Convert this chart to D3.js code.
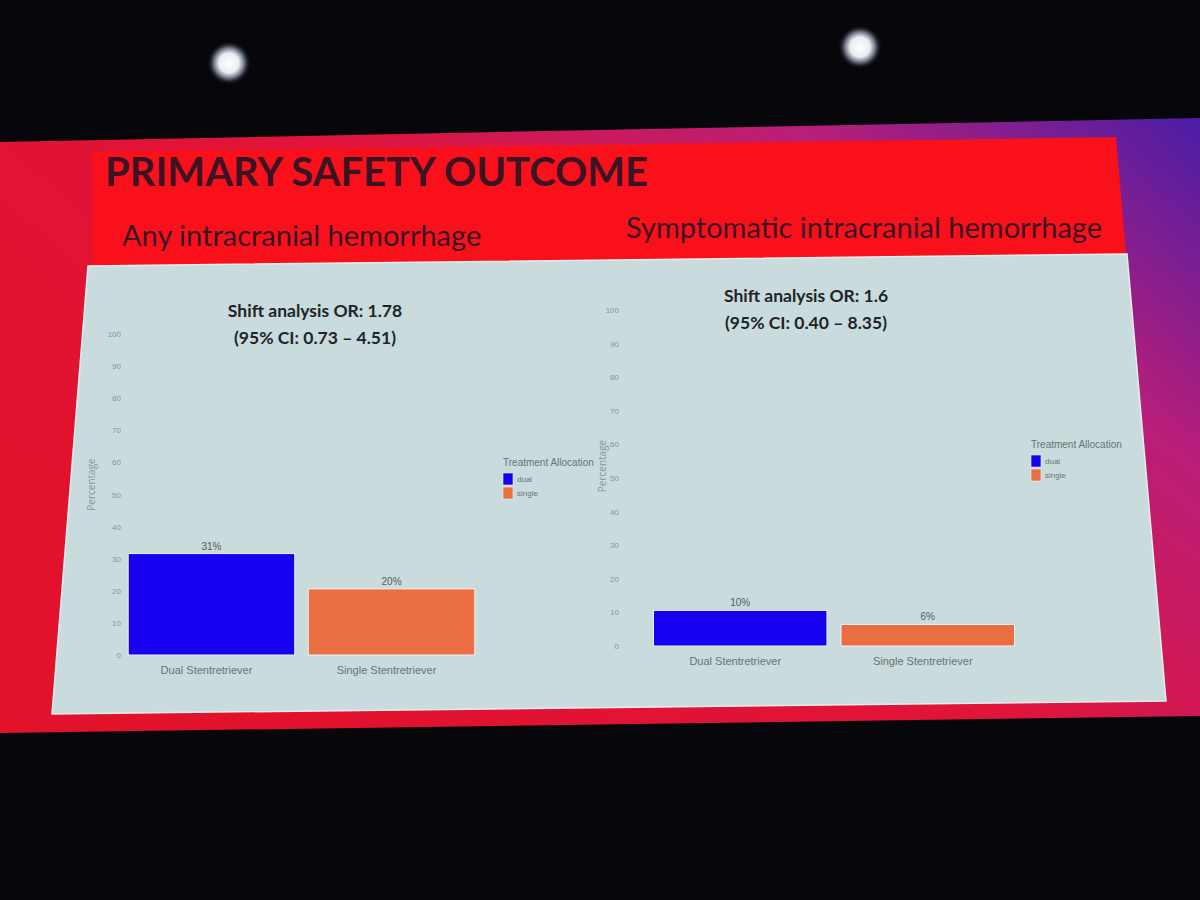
<!DOCTYPE html>
<html>
<head>
  <meta charset="utf-8">
  <title>Primary safety outcome</title>
  <script src="https://cdn.jsdelivr.net/npm/d3@7"></script>
  <style>
    body { margin: 0; background: #07070b; }
    svg { display: block; }
  </style>
</head>
<body>
<div id="slide"></div>
<script>
// --- data ---
var categories = ["Dual Stentretriever", "Single Stentretriever"];
var groups = ["dual", "single"];
var groupColors = ["#1700f0", "#ea6e42"];
var anyValues = [31.6, 20.6];
var anyLabels = ["31%", "20%"];
var sympValues = [10.6, 6.4];
var sympLabels = ["10%", "6%"];
var yTicks = [0, 10, 20, 30, 40, 50, 60, 70, 80, 90, 100];
var anyNote = ["Shift analysis OR: 1.78", "(95% CI: 0.73 \u2013 4.51)"];
var sympNote = ["Shift analysis OR: 1.6", "(95% CI: 0.40 \u2013 8.35)"];

var W = 1200, H = 900;

var svg = d3.select("#slide")
  .append("svg")
    .attr("width", W)
    .attr("height", H);

var defs = svg.append("defs");

// projector screen gradient: red on the left, purple in the top right
var sg = defs.append("linearGradient")
    .attr("id", "screenGrad")
    .attr("x1", "0%").attr("y1", "60%")
    .attr("x2", "100%").attr("y2", "0%");
sg.append("stop").attr("offset", "0%").attr("stop-color", "#e2122c");
sg.append("stop").attr("offset", "45%").attr("stop-color", "#e1143a");
sg.append("stop").attr("offset", "75%").attr("stop-color", "#b91e78");
sg.append("stop").attr("offset", "100%").attr("stop-color", "#4a1ea6");

var lg = defs.append("radialGradient").attr("id", "lamp");
lg.append("stop").attr("offset", "0%").attr("stop-color", "#ffffff");
lg.append("stop").attr("offset", "45%").attr("stop-color", "#e8eef5");
lg.append("stop").attr("offset", "70%").attr("stop-color", "#6a7080");
lg.append("stop").attr("offset", "100%").attr("stop-color", "#07070b").attr("stop-opacity", 0);

// ceiling lights
svg.selectAll("circle.lamp")
  .data([[229, 63], [860, 47]])
  .enter()
  .append("circle")
    .attr("class", "lamp")
    .attr("cx", function(d) { return d[0]; })
    .attr("cy", function(d) { return d[1]; })
    .attr("r", 22)
    .attr("fill", "url(#lamp)");

// screen, header and panel (slightly keystoned like the photo)
svg.append("polygon")
    .attr("points", "0,142 1200,118 1200,716 0,733")
    .attr("fill", "url(#screenGrad)");

svg.append("polygon")
    .attr("points", "93,152 1116,137 1126,254 93,266")
    .attr("fill", "#f9101b");

svg.append("polygon")
    .attr("points", "88,266 1127,254 1166,701 52,714")
    .attr("fill", "#c9dbdc")
    .attr("stroke", "#e8eef0")
    .attr("stroke-width", 1.5);

svg.append("text")
    .attr("x", 105).attr("y", 186)
    .attr("font-family", "Lato, 'Open Sans', sans-serif")
    .attr("font-weight", 700)
    .attr("font-size", "40px")
    .attr("fill", "#3b1424")
    .text("PRIMARY SAFETY OUTCOME");

svg.append("text")
    .attr("x", 122).attr("y", 246)
    .attr("font-family", "Lato, 'Open Sans', sans-serif")
    .attr("font-size", "29px")
    .attr("fill", "#3b1424")
    .text("Any intracranial hemorrhage");

svg.append("text")
    .attr("x", 626).attr("y", 238)
    .attr("font-family", "Lato, 'Open Sans', sans-serif")
    .attr("font-size", "29px")
    .attr("fill", "#3b1424")
    .text("Symptomatic intracranial hemorrhage");

var chartFont = "'Liberation Sans Narrow', 'Liberation Sans', sans-serif";

function drawChart(opt) {
  var g = svg.append("g");

  var x = d3.scaleBand()
    .domain(categories)
    .range(opt.xRange)
    .paddingInner(0.075)
    .paddingOuter(0.04);

  var y = d3.scaleLinear()
    .domain([0, 100])
    .range(opt.yRange);

  var color = d3.scaleOrdinal().domain(groups).range(groupColors);

  // y axis: labels only, like the ggplot theme on the slide
  var yAxis = g.append("g")
    .attr("transform", "translate(" + opt.yAxisX + ",0)")
    .call(d3.axisLeft(y).tickValues(yTicks).tickSize(0).tickPadding(0));
  yAxis.select(".domain").remove();
  yAxis.selectAll("text")
    .attr("font-family", chartFont)
    .attr("font-size", "8px")
    .attr("fill", "#8a9496");

  g.append("text")
    .attr("transform", "translate(" + opt.yTitleX + "," + ((opt.yRange[0] + opt.yRange[1]) / 2 + opt.yTitleShift) + ") rotate(-90)")
    .attr("text-anchor", "middle")
    .attr("font-family", "'Open Sans', sans-serif")
    .attr("font-size", "10px")
    .attr("fill", "#8a9496")
    .text("Percentage");

  g.selectAll("rect.bar")
    .data(opt.values)
    .enter()
    .append("rect")
      .attr("class", "bar")
      .attr("x", function(d, i) { return x(categories[i]); })
      .attr("y", function(d) { return y(d); })
      .attr("width", x.bandwidth())
      .attr("height", function(d) { return y(0) - y(d); })
      .attr("fill", function(d, i) { return color(groups[i]); })
      .attr("stroke", "#eef2f4")
      .attr("stroke-width", 1);

  g.selectAll("text.val")
    .data(opt.values)
    .enter()
    .append("text")
      .attr("class", "val")
      .attr("x", function(d, i) { return x(categories[i]) + x.bandwidth() / 2; })
      .attr("y", function(d) { return y(d) - 4; })
      .attr("text-anchor", "middle")
      .attr("font-family", chartFont)
      .attr("font-size", "10px")
      .attr("fill", "#555c60")
      .text(function(d, i) { return opt.labels[i]; });

  var xAxis = g.append("g")
    .attr("transform", "translate(0," + y(0) + ")")
    .call(d3.axisBottom(x).tickSize(0).tickPadding(11));
  xAxis.select(".domain").remove();
  xAxis.selectAll("text")
    .attr("font-family", chartFont)
    .attr("font-size", "11px")
    .attr("fill", "#6a7275")
    .attr("dx", "-5");

  // OR annotation
  g.selectAll("text.note")
    .data(opt.note)
    .enter()
    .append("text")
      .attr("class", "note")
      .attr("x", opt.noteX)
      .attr("y", function(d, i) { return opt.noteY + i * 27; })
      .attr("text-anchor", "middle")
      .attr("font-family", "Lato, 'Open Sans', sans-serif")
      .attr("font-weight", 700)
      .attr("font-size", "17.5px")
      .attr("fill", "#1e2428")
      .text(function(d) { return d; });

  // legend
  var leg = g.append("g")
    .attr("transform", "translate(" + opt.legend[0] + "," + opt.legend[1] + ")");
  leg.append("text")
    .attr("x", 0).attr("y", 0)
    .attr("font-family", chartFont)
    .attr("font-size", "10px")
    .attr("fill", "#6a7275")
    .text("Treatment Allocation");
  var item = leg.selectAll("g.item")
    .data(groups)
    .enter()
    .append("g")
      .attr("class", "item")
      .attr("transform", function(d, i) { return "translate(0," + (7 + i * 14) + ")"; });
  item.append("rect")
    .attr("width", 10).attr("height", 12)
    .attr("fill", function(d) { return color(d); })
    .attr("stroke", "#eef2f4")
    .attr("stroke-width", 0.6);
  item.append("text")
    .attr("x", 14).attr("y", 9)
    .attr("font-family", chartFont)
    .attr("font-size", "8px")
    .attr("fill", "#6a7275")
    .text(function(d) { return d; });
}

drawChart({
  values: anyValues,
  labels: anyLabels,
  note: anyNote,
  xRange: [121, 482],
  yRange: [655, 334],
  yAxisX: 121,
  yTitleX: 95,
  yTitleShift: -10,
  noteX: 315, noteY: 317,
  legend: [503, 466]
});

drawChart({
  values: sympValues,
  labels: sympLabels,
  note: sympNote,
  xRange: [646, 1022],
  yRange: [646, 310],
  yAxisX: 619,
  yTitleX: 606,
  yTitleShift: -12,
  noteX: 806, noteY: 302,
  legend: [1031, 448]
});
</script>
</body>
</html>
